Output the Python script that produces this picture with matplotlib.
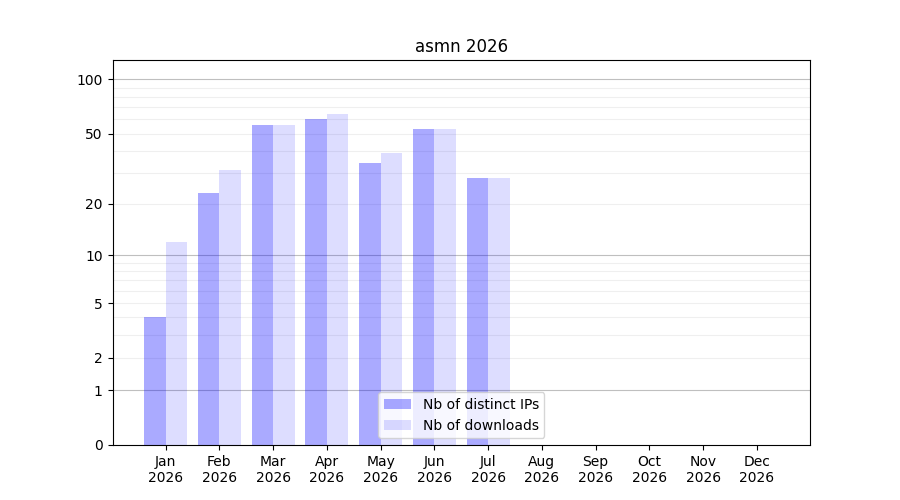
import matplotlib
matplotlib.use('Agg')
import matplotlib.pyplot as plt
import numpy as np

months = ['Jan', 'Feb', 'Mar', 'Apr', 'May', 'Jun', 'Jul', 'Aug', 'Sep', 'Oct', 'Nov', 'Dec']
year = 2026
distinct_ips = [4, 23, 56, 60, 34, 53, 28, 0, 0, 0, 0, 0]
downloads = [12, 31, 56, 64, 39, 53, 28, 0, 0, 0, 0, 0]
y_ticks = [0, 1, 2, 5, 10, 20, 50, 100]


def fwd(v):
    return np.log10(np.asarray(v) + 1)


def inv(v):
    return 10 ** np.asarray(v) - 1


fig, ax = plt.subplots(figsize=(9, 5), dpi=100)
x = np.arange(1, len(months) + 1)
w = 0.4

ax.set_yscale('function', functions=(fwd, inv))

# grid: darker at decades, light in between
for dec in [1, 10, 100]:
    ax.axhline(dec, color='gray', linewidth=0.8, alpha=0.5, zorder=0)
    for k in range(2, 10):
        if dec * k < 130:
            ax.axhline(dec * k, color='gray', linewidth=0.8, alpha=0.12, zorder=0)

ax.bar(x - w / 2, distinct_ips, width=w, color='blue', alpha=1 / 3,
       label='Nb of distinct IPs', zorder=2)
ax.bar(x + w / 2, downloads, width=w, color='blue', alpha=0.135,
       label='Nb of downloads', zorder=2)

ax.set_ylim(0, 2 * max(max(distinct_ips), max(downloads)))
ax.set_yticks(y_ticks)
ax.set_yticklabels([str(t) for t in y_ticks])
ax.yaxis.set_minor_locator(matplotlib.ticker.NullLocator())
ax.set_xticks(x)
ax.set_xticklabels([f'{m}\n{year}' for m in months])
ax.set_title(f'asmn {year}')
ax.legend(loc='lower center')

plt.savefig('out.png', dpi=100)
